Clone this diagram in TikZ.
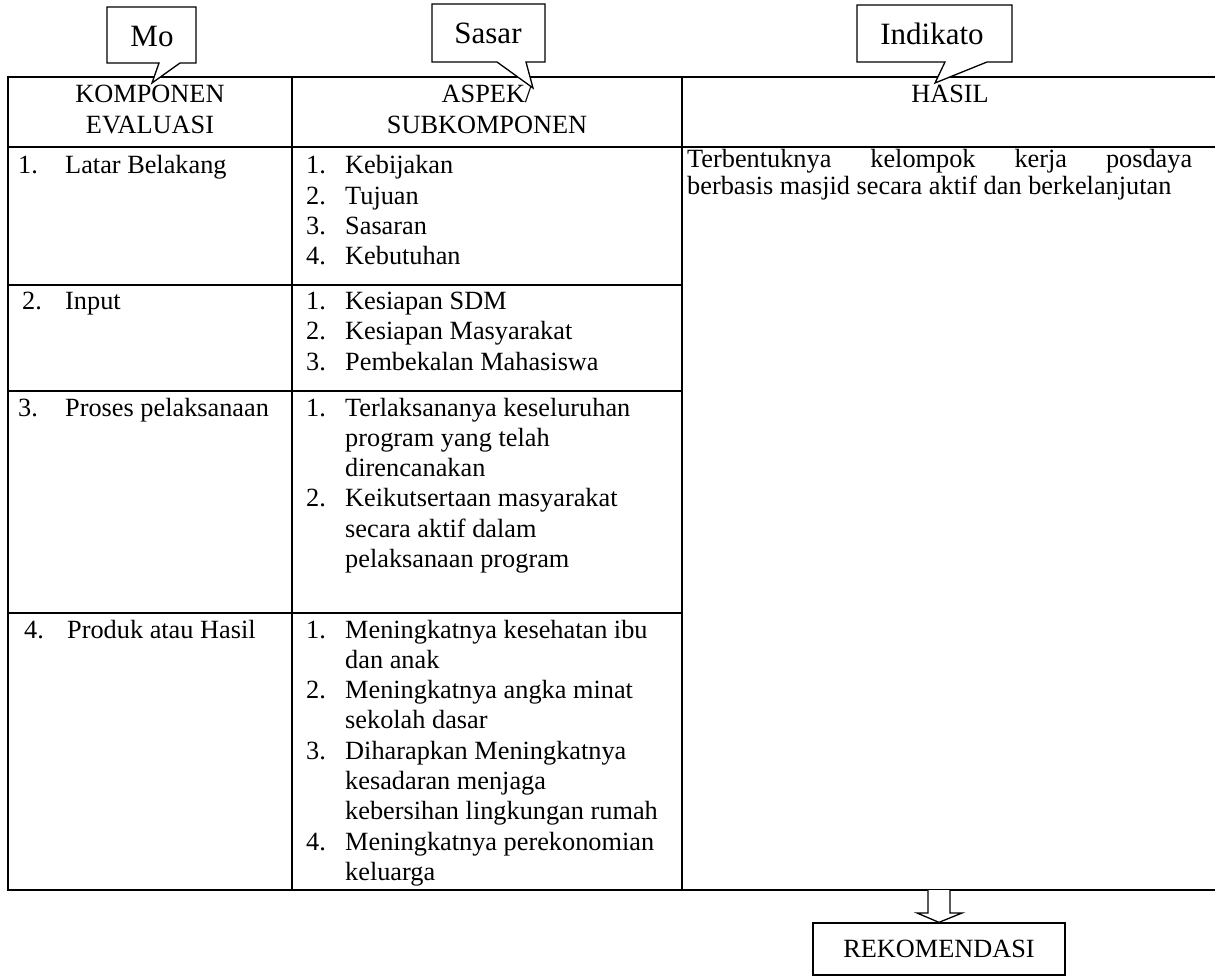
\documentclass[tikz,border=0pt]{standalone}
\usepackage{fontspec}
\setmainfont{Liberation Serif}
\usetikzlibrary{calc}
\newcommand\tfont{\fontsize{26.3}{30.3}\selectfont}
\newcommand\cfont{\fontsize{31}{36}\selectfont}
\begin{document}
\begin{tikzpicture}[x=1pt,y=-1pt,
  tbl/.style={line width=1.8pt},
  txt/.style={anchor=base west, inner sep=0pt, font=\tfont},
  ctr/.style={anchor=base, inner sep=0pt, font=\tfont},
  callout/.style={draw, line width=1.3pt, fill=white, line join=miter},
  ctext/.style={anchor=base, inner sep=0pt, font=\cfont},
  recbox/.style={draw, line width=1.3pt, minimum width=252pt, minimum height=52pt, inner sep=0pt, font=\tfont},
  blockarrow/.style={draw, line width=1.3pt, fill=white, line join=miter}]
\useasboundingbox (0,0) rectangle (1215,976);

% table frame
\draw[tbl] (1215,77) -- (8,77) -- (8,890) -- (1215,890);
\draw[tbl] (8,147) -- (1215,147);
\draw[tbl] (292,77) -- (292,890);
\draw[tbl] (682,77) -- (682,890);
\foreach \y in {285,391,613} \draw[tbl] (8,\y) -- (682,\y);

% header
\node[ctr] (h1a) at (150,103) {KOMPONEN};
\node[ctr] (h1b) at (150,133.5) {EVALUASI};
\node[ctr] (h2a) at (487,103) {ASPEK/};
\node[ctr] (h2b) at (487,133.5) {SUBKOMPONEN};
\node[ctr] (h3) at (950,103) {HASIL};

% column 1
\node[txt] (n1) at (18,174) {1.};
\node[txt] (k1) at (65,174) {Latar Belakang};
\node[txt] (n2) at (22,309.5) {2.};
\node[txt] (k2) at (65,309.5) {Input};
\node[txt] (n3) at (18,416) {3.};
\node[txt] (k3) at (65,416) {Proses pelaksanaan};
\node[txt] (n4) at (24,638) {4.};
\node[txt] (k4) at (67,638) {Produk atau Hasil};

% column 2, row 1
\node[txt] (a1n) at (306,174) {1.};   \node[txt] (a1) at (345,174) {Kebijakan};
\node[txt] (a2n) at (306,204.3) {2.}; \node[txt] (a2) at (345,204.3) {Tujuan};
\node[txt] (a3n) at (306,234.6) {3.}; \node[txt] (a3) at (345,234.6) {Sasaran};
\node[txt] (a4n) at (306,264.9) {4.}; \node[txt] (a4) at (345,264.9) {Kebutuhan};
% row 2
\node[txt] (b1n) at (306,309.5) {1.}; \node[txt] (b1) at (345,309.5) {Kesiapan SDM};
\node[txt] (b2n) at (306,339.8) {2.}; \node[txt] (b2) at (345,339.8) {Kesiapan Masyarakat};
\node[txt] (b3n) at (306,370.1) {3.}; \node[txt] (b3) at (345,370.1) {Pembekalan Mahasiswa};
% row 3
\node[txt] (c1n) at (306,416) {1.}; \node[txt] (c1) at (345,416) {Terlaksananya keseluruhan};
\node[txt] (c1b) at (345,446.3) {program yang telah};
\node[txt] (c1c) at (345,476.6) {direncanakan};
\node[txt] (c2n) at (306,506.9) {2.}; \node[txt] (c2) at (345,506.9) {Keikutsertaan masyarakat};
\node[txt] (c2b) at (345,537.2) {secara aktif dalam};
\node[txt] (c2c) at (345,567.5) {pelaksanaan program};
% row 4
\node[txt] (d1n) at (306,638) {1.}; \node[txt] (d1) at (345,638) {Meningkatnya kesehatan ibu};
\node[txt] (d1b) at (345,668.3) {dan anak};
\node[txt] (d2n) at (306,698.6) {2.}; \node[txt] (d2) at (345,698.6) {Meningkatnya angka minat};
\node[txt] (d2b) at (345,728.9) {sekolah dasar};
\node[txt] (d3n) at (306,759.2) {3.}; \node[txt] (d3) at (345,759.2) {Diharapkan Meningkatnya};
\node[txt] (d3b) at (345,789.5) {kesadaran menjaga};
\node[txt] (d3c) at (345,819.8) {kebersihan lingkungan rumah};
\node[txt] (d4n) at (306,850.1) {4.}; \node[txt] (d4) at (345,850.1) {Meningkatnya perekonomian};
\node[txt] (d4b) at (345,880.4) {keluarga};

% column 3
\node[txt] (r1) at (687,168) {\hbox to 505pt{Terbentuknya\hfill kelompok\hfill kerja\hfill posdaya}};
\node[txt] (r2) at (687,195) {berbasis masjid secara aktif dan berkelanjutan};

% callouts
\draw[callout] (107,7) -- (196,7) -- (196,63) -- (180,63) -- (152,83) -- (159,63) -- (107,63) -- cycle;
\node[ctext] (mo) at (152,47) {Mo};
\draw[callout] (432,4) -- (545,4) -- (545,62) -- (526,62) -- (533,88) -- (497,62) -- (432,62) -- cycle;
\node[ctext] (sasar) at (488,44) {Sasar};
\draw[callout] (857,5) -- (1012,5) -- (1012,62) -- (987,62) -- (935,83) -- (945,62) -- (857,62) -- cycle;
\node[ctext] (indik) at (932,45) {Indikato};

% recommendation
\node[recbox] (rek) at (939,949) {REKOMENDASI};
\coordinate (atop) at (939,890);
\draw[blockarrow] ($(atop)+(-11,0)$) -- ($(atop)+(-11,23)$) -- ($(atop)+(-22,23)$) -- (rek.north)
  -- ($(atop)+(23,23)$) -- ($(atop)+(11,23)$) -- ($(atop)+(11,0)$);
\end{tikzpicture}
\end{document}
